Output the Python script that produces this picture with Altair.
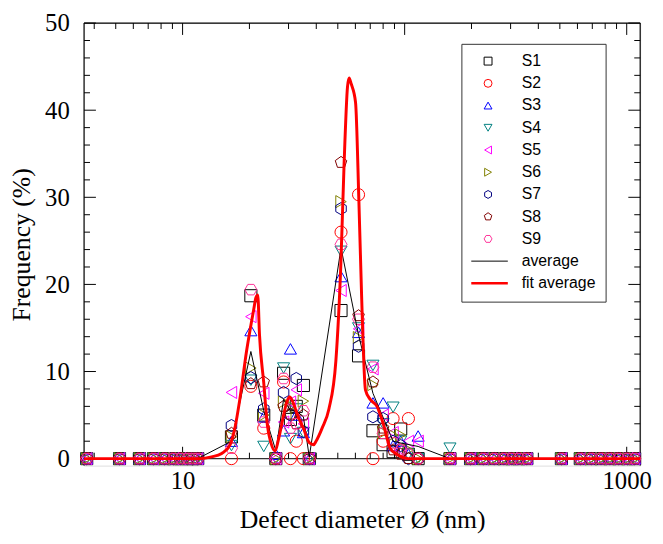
import altair as alt
import pandas as pd

# ---------------- data ----------------
SERIES = ["S1", "S2", "S3", "S4", "S5", "S6", "S7", "S8", "S9"]
COLORS = ["#000000", "#ff0000", "#0000ff", "#008080", "#ff00ff", "#808000", "#000080", "#800000", "#ff3399"]
HEX = "M0,-1L0.866,-0.5L0.866,0.5L0,1L-0.866,0.5L-0.866,-0.5Z"
HEX_FLAT = "M1,0L0.5,0.866L-0.5,0.866L-1,0L-0.5,-0.866L0.5,-0.866Z"
PENT = "M0,-1L0.951,-0.309L0.588,0.809L-0.588,0.809L-0.951,-0.309Z"
LINE = "M-1,0L1,0"
SHAPES = ["square", "circle", "triangle-up", "triangle-down", "triangle-left",
          "triangle-right", HEX, PENT, HEX_FLAT]

X_ZERO_LOW = [3.7, 5.2, 6.4, 7.4, 8.3, 9.1, 9.8, 10.5, 11.1, 11.7]
X_ZERO_HIGH = [198, 226, 253, 280, 304, 327, 355, 508, 618, 692, 766, 840, 921, 1009, 1086]
X_PEAK = [16.6, 20.3, 23.2, 26.3, 28.5, 30.6, 32.5, 35.0, 37.2, 51.7, 62.0, 72.0,
          80.0, 88.7, 96, 104, 115, 160]

S1 = [2.5, 18.7, 5.0, 0.0, 9.8, 4.5, 6.0, 8.4, 0.0, 17.0, 11.8, 3.2, 1.6, 0.8, 3.4, 0.5, 0.0, 0.0]
S2 = [0.0, 8.3, 3.5, 0.0, 8.8, 0.0, 2.0, 0.0, 0.0, 26.0, 30.3, 0.0, 2.0, 4.6, 1.0, 4.6, 0.0, 0.0]
S3 = [2.0, 14.7, 4.8, 0.5, 3.2, 12.6, 5.0, 3.0, 0.0, 20.9, 14.5, 6.4, 6.4, 1.5, 2.0, 0.5, 2.6, 0.0]
S4 = [1.5, 9.0, 1.4, 0.0, 10.4, 2.3, 5.7, 3.0, 0.0, 23.8, 15.0, 10.7, 4.0, 5.9, 2.0, 0.5, 0.0, 1.2]
S5 = [7.6, 16.3, 7.5, 0.0, 4.2, 6.5, 7.9, 4.0, 0.0, 19.3, 14.9, 10.3, 5.0, 3.0, 1.0, 2.0, 2.0, 0.0]
S6 = [2.5, 10.4, 5.0, 0.0, 6.5, 6.0, 5.0, 6.6, 0.0, 29.5, 13.9, 8.5, 3.0, 2.7, 2.7, 1.0, 0.0, 0.0]
S7 = [3.8, 9.3, 5.7, 0.0, 7.6, 5.0, 9.2, 3.1, 0.0, 28.7, 12.9, 4.8, 4.6, 2.0, 1.5, 0.0, 0.0, 0.0]
S8 = [2.9, 8.6, 8.8, 0.0, 6.0, 5.1, 4.0, 5.0, 0.0, 34.0, 16.4, 8.8, 3.5, 1.0, 0.5, 0.0, 0.0, 0.0]
S9 = [1.2, 19.4, 4.2, 0.0, 9.2, 3.5, 4.0, 5.5, 0.0, 24.6, 16.0, 10.5, 2.9, 1.8, 1.0, 0.5, 0.0, 0.0]
PEAK_VALUES = [S1, S2, S3, S4, S5, S6, S7, S8, S9]

AVG_X = [3.7, 5.2, 6.4, 7.4, 8.3, 9.1, 9.8, 10.5, 11.1, 11.7, 16.6, 20.3, 23.2, 26.3, 28.5,
         30.6, 32.5, 35.0, 37.2, 51.7, 62.0, 72.0, 88.7, 96, 115, 160, 198, 226, 253, 280,
         304, 327, 355, 508, 618, 692, 766, 840, 921, 1009, 1086]
AVG_Y = [0, 0, 0, 0, 0, 0, 0, 0, 0, 0, 2.0, 12.3, 5.5, 0.9, 6.8,
         5.5, 5.5, 4.8, 0.2, 24.2, 14.2, 7.5, 2.0, 1.8, 1.4, 0.0, 0, 0, 0, 0,
         0, 0, 0, 0, 0, 0, 0, 0, 0, 0, 0]

FIT_X = [3.6, 12.0, 13.5, 15.0, 16.3, 17.2, 18.1, 19.4, 20.9, 21.4, 21.8, 22.2, 23.2, 24.1,
         25.0, 26.0, 27.3, 28.5, 29.4, 30.3, 31.5, 32.6, 35.1, 37.3, 38.9, 39.9, 42.5, 45.6,
         49.0, 51.6, 53.3, 55.3, 56.2, 57.5, 60.1, 62.2, 64.0, 66.6, 70.0, 75.1, 80.5, 86.0,
         92.2, 104, 1150]
FIT_Y = [0, 0, 0.2, 0.6, 1.5, 3.5, 6.8, 12.3, 17.1, 18.5, 18.8, 14.2, 8.7, 3.8,
         1.8, 0.9, 2.7, 5.0, 6.4, 7.1, 6.4, 5.3, 3.4, 1.8, 1.6, 2.0, 3.5, 5.7,
         11.2, 22.3, 33.4, 42.7, 43.7, 43.0, 40.9, 29.7, 18.7, 7.9, 6.8, 6.0, 3.8, 1.2,
         0.5, 0, 0]

X_MAJOR = [10, 100, 1000]
X_MINOR = [4, 5, 6, 7, 8, 9, 20, 30, 40, 50, 60, 70, 80, 90,
           200, 300, 400, 500, 600, 700, 800, 900]
Y_MAJOR = [0, 10, 20, 30, 40, 50]
Y_MINOR = [2, 4, 6, 8, 12, 14, 16, 18, 22, 24, 26, 28, 32, 34, 36, 38, 42, 44, 46, 48]

# ---------------- tables ----------------
rows = []
for name, vals in zip(SERIES, PEAK_VALUES):
    for x in X_ZERO_LOW:
        rows.append({"d": x, "f": 0.0, "series": name})
    for x, v in zip(X_PEAK, vals):
        rows.append({"d": x, "f": v, "series": name})
    for x in X_ZERO_HIGH:
        rows.append({"d": x, "f": 0.0, "series": name})
df_pts = pd.DataFrame(rows)
df_avg = pd.DataFrame({"d": AVG_X, "f": AVG_Y, "series": "average"})
df_fit = pd.DataFrame({"d": FIT_X, "f": FIT_Y, "series": "fit average"})

W, H = 563, 448
SERIF = "Liberation Serif"
SANS = "Liberation Sans"

ALL = SERIES + ["average", "fit average"]
ALL_COLORS = COLORS + ["#000000", "#ff0000"]
ALL_SHAPES = SHAPES + [LINE, LINE]

xscale = alt.Scale(type="log", domain=[3.6, 1150], nice=False, zero=False)
yscale = alt.Scale(domain=[-0.8, 50], nice=False, zero=False)

legend = alt.Legend(
    title=None, orient="none", legendX=382, legendY=21,
    labelFont=SANS, labelFontSize=16, labelColor="black", labelOffset=26,
    symbolOffset=9,
    strokeColor="#333333", fillColor="white", padding=10, rowPadding=5.5,
    clipHeight=15, symbolFillColor="transparent", symbolOpacity=1,
    symbolSize={"expr": "(datum.value === 'average' || datum.value === 'fit average') ? 1600 : 64"},
    symbolStrokeWidth={"expr": "datum.value === 'fit average' ? 2.5 : 1"},
)
color_enc = alt.Color("series:N", scale=alt.Scale(domain=ALL, range=ALL_COLORS), legend=legend)
shape_enc = alt.Shape("series:N", scale=alt.Scale(domain=ALL, range=ALL_SHAPES), legend=legend)

xaxis = alt.Axis(values=X_MAJOR, format="d", grid=False, ticks=False, domain=False,
                 labelFont=SERIF, labelFontSize=25, labelColor="black", labelPadding=3,
                 labelFlush=False, labelOverlap=False,
                 title="Defect diameter Ø (nm)", titleFont=SERIF, titleFontSize=26,
                 titleFontWeight="normal", titleColor="black", titlePadding=14)
yaxis = alt.Axis(values=Y_MAJOR, grid=False, ticks=False, domain=False,
                 labelFont=SERIF, labelFontSize=25, labelColor="black", labelPadding=15,
                 title="Frequency (%)", titleFont=SERIF, titleFontSize=26,
                 titleFontWeight="normal", titleColor="black", titlePadding=10)

# ---------------- frame & ticks ----------------
def xt(vals):
    return pd.DataFrame({"v": vals})

frame = [
    alt.Chart(xt([0])).mark_rule(color="black", strokeWidth=1.2).encode(
        x=alt.value(0), x2=alt.value(W), y=alt.value(0)),
    alt.Chart(xt([0])).mark_rule(color="black", strokeWidth=1.2).encode(
        x=alt.value(0), y=alt.value(0), y2=alt.value(H)),
    alt.Chart(xt([0])).mark_rule(color="black", strokeWidth=1.2).encode(
        x=alt.value(W), y=alt.value(0), y2=alt.value(H)),
    alt.Chart(xt([0])).mark_rule(color="#333333", strokeWidth=1.2).encode(
        y=alt.Y(datum=0, type="quantitative", scale=yscale, axis=yaxis),
        x=alt.value(0), x2=alt.value(W)),
]
ticks = []
for vals, L in ((X_MINOR, 6), (X_MAJOR, 12)):
    ticks.append(alt.Chart(xt(vals)).mark_rule(color="black", y2Offset=-L).encode(
        x=alt.X("v:Q", scale=xscale, axis=xaxis),
        y=alt.Y(datum=0, type="quantitative", scale=yscale, axis=yaxis),
        y2=alt.Y2(datum=0)))
    ticks.append(alt.Chart(xt(vals)).mark_rule(color="black").encode(
        x=alt.X("v:Q", scale=xscale, axis=xaxis),
        y=alt.value(0), y2=alt.value(L)))
for vals, L in ((Y_MINOR, 6), (Y_MAJOR, 12)):
    ticks.append(alt.Chart(xt(vals)).mark_rule(color="black").encode(
        y=alt.Y("v:Q", scale=yscale, axis=yaxis),
        x=alt.value(0), x2=alt.value(L)))
    ticks.append(alt.Chart(xt(vals)).mark_rule(color="black").encode(
        y=alt.Y("v:Q", scale=yscale, axis=yaxis),
        x=alt.value(W), x2=alt.value(W - L)))

# ---------------- data layers ----------------
points = alt.Chart(df_pts).mark_point(filled=False, opacity=1, size=150, strokeWidth=1).encode(
    x=alt.X("d:Q", scale=xscale, axis=xaxis),
    y=alt.Y("f:Q", scale=yscale, axis=yaxis),
    color=color_enc,
    shape=shape_enc,
)
avg = alt.Chart(df_avg).mark_line(strokeWidth=1).encode(
    x=alt.X("d:Q", scale=xscale, axis=xaxis),
    y=alt.Y("f:Q", scale=yscale, axis=yaxis),
    color=color_enc,
)
fit = alt.Chart(df_fit).mark_line(strokeWidth=3, interpolate="monotone").encode(
    x=alt.X("d:Q", scale=xscale, axis=xaxis),
    y=alt.Y("f:Q", scale=yscale, axis=yaxis),
    color=color_enc,
)

chart = alt.layer(*frame, *ticks, points, avg, fit).properties(
    width=W, height=H,
    autosize=alt.AutoSizeParams(type="none"),
    padding={"left": 77, "top": 12, "right": 15, "bottom": 68},
).configure_view(stroke="#cccccc", strokeWidth=1).configure(background="white")

chart.save("out.html", embed_options={"renderer": "svg", "actions": False})
